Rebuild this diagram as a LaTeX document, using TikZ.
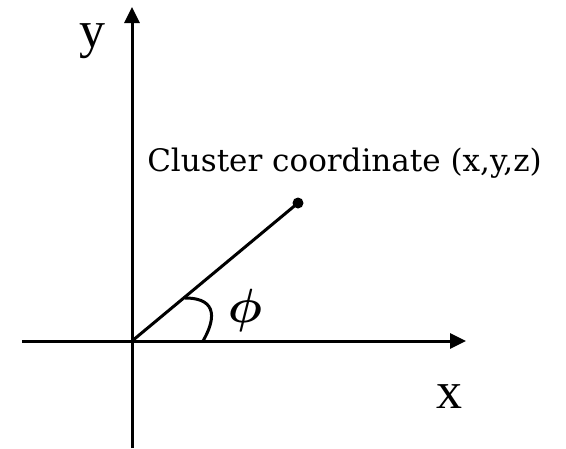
\documentclass[tikz,border=0pt]{standalone}
\usepackage{fontspec}
\setmainfont{Liberation Serif}
\newfontfamily\clfont{DejaVu Serif}
\usetikzlibrary{arrows.meta}
\begin{document}
\begin{tikzpicture}[x=1pt,y=-1pt,
  axis/.style={line width=3pt,-{Triangle[width=15pt,length=16pt]}},
  ray/.style={line width=3pt},
  lbl/.style={inner sep=0pt,anchor=base}]
\useasboundingbox[fill=white] (0,0) rectangle (566,448);
\coordinate (O) at (132,341);
\coordinate (xs) at (22,341);
\coordinate (xe) at (466,341);
\coordinate (ys) at (132,448);
\coordinate (ye) at (132,7);
\coordinate (a1) at (203,341);
\coordinate (a2) at (185,298);
\node[circle,fill=black,inner sep=0pt,minimum size=11pt] (P) at (298,203) {};
\draw[axis] (xs) -- (xe);
\draw[axis] (ys) -- (ye);
\draw[ray] (O) -- (P.center);
\draw[ray] (a1) .. controls (214,322) and (220,298) .. (a2);
\node[lbl,font=\clfont\fontsize{31}{31}\selectfont] (cl) at (344.5,171) {Cluster coordinate (x,y,z)};
\node[lbl,font=\fontsize{52}{52}\selectfont] (ylab) at (92,47) {y};
\node[lbl,font=\fontsize{52}{52}\selectfont] (xlab) at (449,408) {x};
\node[inner sep=0pt] (phi) at (245,310) {\scalebox{4.8}{\boldmath$\phi$}};
\end{tikzpicture}
\end{document}
